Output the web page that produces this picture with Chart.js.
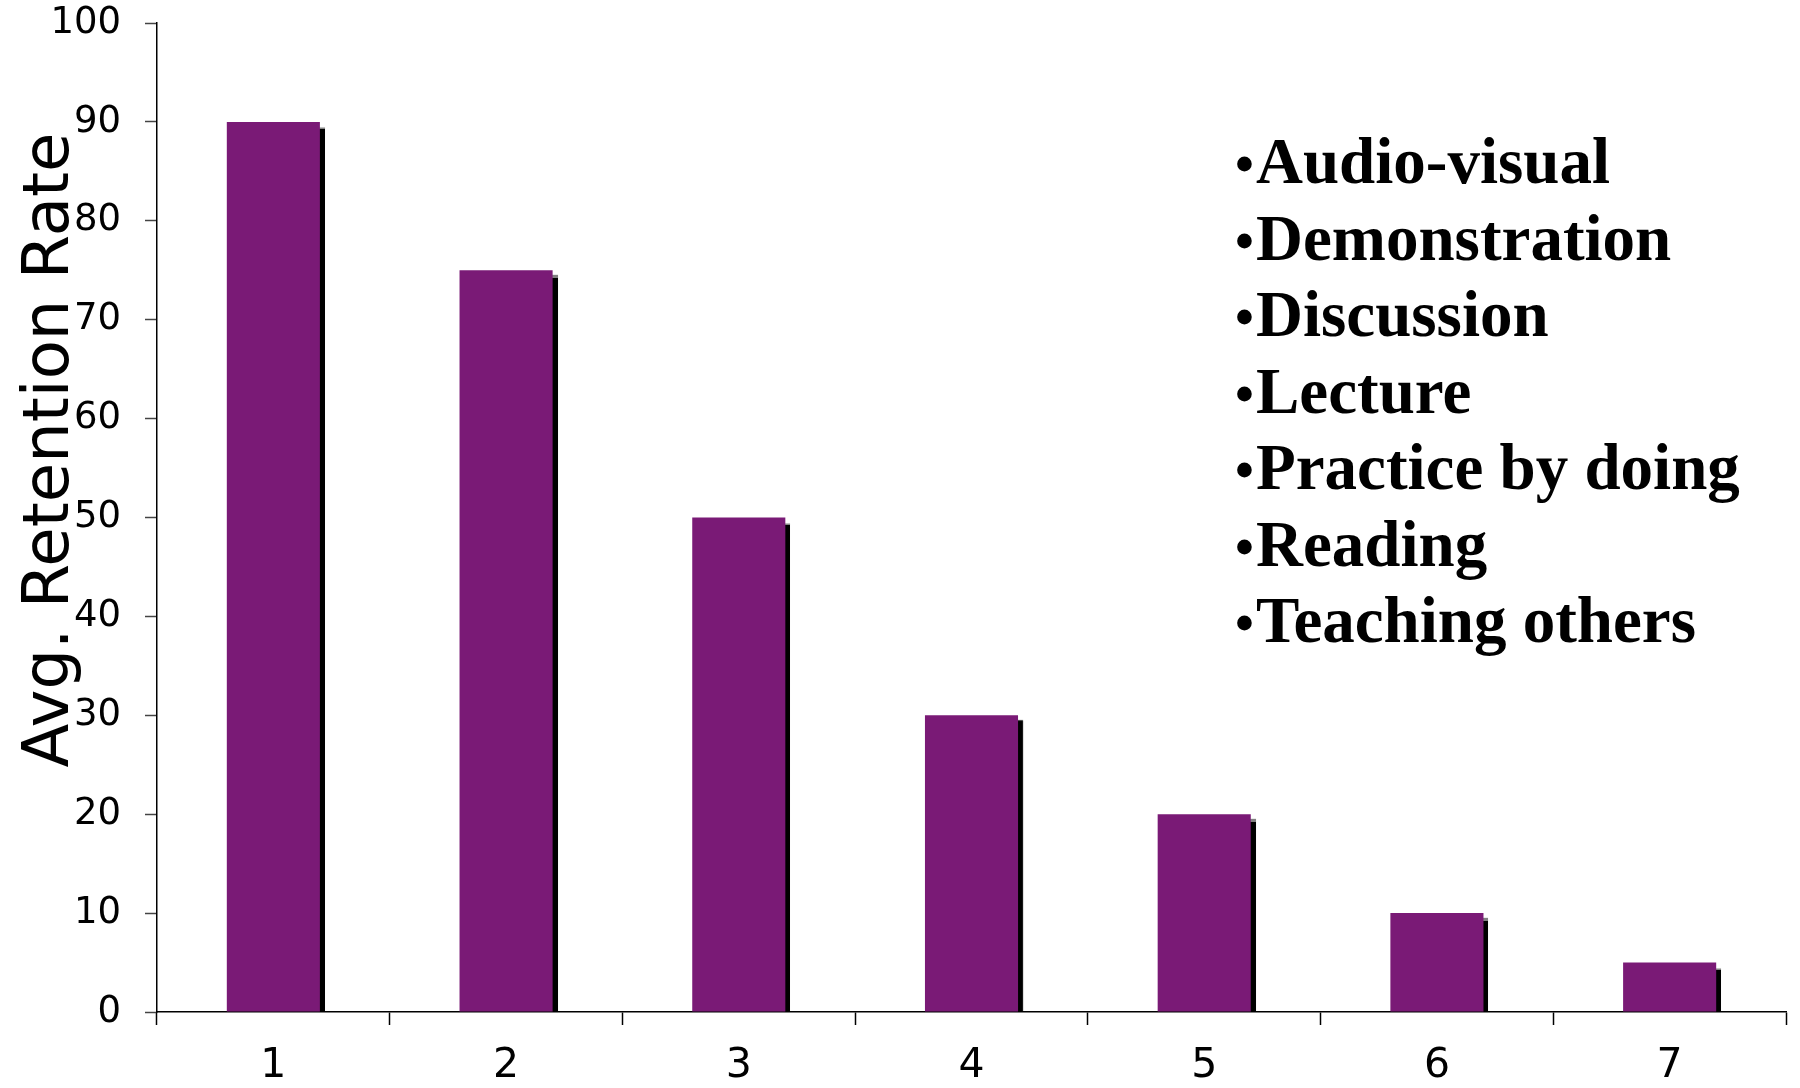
<!DOCTYPE html>
<html>
<head>
<meta charset="utf-8">
<script src="https://cdn.jsdelivr.net/npm/chart.js@4.4.1/dist/chart.umd.min.js"></script>
<style>
  html, body { margin: 0; padding: 0; background: #fff; }
  #wrap { width: 1800px; height: 1088px; position: relative; }
</style>
</head>
<body>
<div id="wrap"><canvas id="retentionChart"></canvas></div>
<script>
const categories = ['1', '2', '3', '4', '5', '6', '7'];
const retentionValues = [90, 75, 50, 30, 20, 10, 5];
const yTicks = [0, 10, 20, 30, 40, 50, 60, 70, 80, 90, 100];
const methodNames = [
    'Audio-visual',
    'Demonstration',
    'Discussion',
    'Lecture',
    'Practice by doing',
    'Reading',
    'Teaching others'
];
const yTitle = 'Avg. Retention Rate';

// black drop shadow under the bars
const barShadow = {
    id: 'barShadow',
    beforeDatasetDraw(chart) {
        const ctx = chart.ctx;
        ctx.save();
        ctx.shadowColor = 'rgba(0,0,0,1)';
        ctx.shadowOffsetX = 5;
        ctx.shadowOffsetY = 5;
        ctx.shadowBlur = 1;
    },
    afterDatasetDraw(chart) {
        chart.ctx.restore();
    }
};

// rotated axis title, sits a bit above the plot centre like the original
const sideTitle = {
    id: 'sideTitle',
    afterDraw(chart) {
        const ctx = chart.ctx;
        ctx.save();
        ctx.translate(68, 450);
        ctx.rotate(-Math.PI / 2);
        ctx.font = '64px "DejaVu Sans"';
        ctx.fillStyle = '#000';
        ctx.textAlign = 'center';
        ctx.textBaseline = 'alphabetic';
        ctx.fillText(yTitle, 0, 0);
        ctx.restore();
    }
};

// bullet list of methods on the right
const methodList = {
    id: 'methodList',
    afterDraw(chart) {
        const ctx = chart.ctx;
        ctx.save();
        ctx.fillStyle = '#000';
        ctx.textAlign = 'left';
        ctx.textBaseline = 'alphabetic';
        methodNames.forEach((name, i) => {
            const y = 183 + i * 76.5;
            ctx.font = 'bold 54px "Liberation Serif"';
            ctx.fillText('\u2022', 1235, y - 1);
            ctx.font = 'bold 65px "Liberation Serif"';
            ctx.fillText(name, 1256, y);
        });
        ctx.restore();
    }
};

const ctx = document.getElementById('retentionChart').getContext('2d');
new Chart(ctx, {
    type: 'bar',
    data: {
        labels: categories,
        datasets: [{
            data: retentionValues,
            backgroundColor: '#7a1a76',
            borderWidth: 0,
            categoryPercentage: 1.0,
            barPercentage: 0.4
        }]
    },
    options: {
        responsive: true,
        maintainAspectRatio: false,
        animation: false,
        layout: { padding: { top: 23, right: 14, left: 0, bottom: 0 } },
        plugins: {
            legend: { display: false },
            tooltip: { enabled: false }
        },
        scales: {
            x: {
                offset: true,
                afterFit(scale) {
                    scale.height = 76;
                    scale.paddingLeft = 0;
                    scale.paddingRight = 0;
                },
                grid: {
                    offset: true,
                    drawOnChartArea: false,
                    drawTicks: true,
                    tickLength: 13,
                    tickColor: '#000',
                    tickWidth: 1.5
                },
                border: { display: true, color: '#000', width: 1.5 },
                ticks: {
                    color: '#000',
                    padding: 17,
                    font: { family: '"DejaVu Sans"', size: 41 }
                }
            },
            y: {
                min: 0,
                max: 100,
                afterFit(scale) {
                    scale.width = 157;
                    scale.paddingTop = 0;
                    scale.paddingBottom = 0;
                },
                afterBuildTicks(scale) {
                    scale.ticks = yTicks.map(v => ({ value: v }));
                },
                grid: {
                    drawOnChartArea: false,
                    drawTicks: true,
                    tickLength: 12,
                    tickColor: '#444',
                    tickWidth: 1.5
                },
                border: { display: true, color: '#000', width: 1.5 },
                ticks: {
                    color: '#000',
                    padding: 24,
                    font: { family: '"DejaVu Sans"', size: 37 }
                }
            }
        }
    },
    plugins: [barShadow, sideTitle, methodList]
});
</script>
</body>
</html>
